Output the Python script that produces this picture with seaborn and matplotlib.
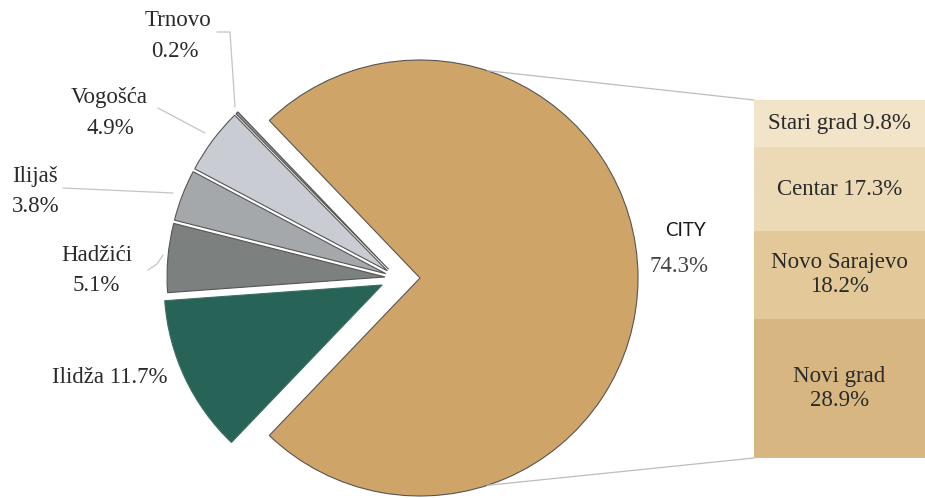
import numpy as np
import matplotlib
matplotlib.use("Agg")
import matplotlib.pyplot as plt
import seaborn as sns

# Population shares: city vs. surrounding municipalities
pie_labels = ["CITY", "Trnovo", "Vogošća", "Ilijaš", "Hadžići", "Ilidža"]
pie_values = [74.3, 0.2, 4.9, 3.8, 5.1, 11.7]
pie_colors = ["#CFA468", "#8C9092", "#C9CDD3", "#A5A8AA", "#7C807F", "#276357"]

# Breakdown of the city share (top to bottom)
bar_labels = ["Stari grad 9.8%", "Centar 17.3%", "Novo Sarajevo\n18.2%", "Novi grad\n28.9%"]
bar_values = [9.8, 17.3, 18.2, 28.9]
bar_colors = ["#F1E4C8", "#ECDAB6", "#E3C99A", "#D8B681"]

W, H = 925, 498
sns.set_theme(style="white")
plt.rcParams["font.family"] = ["Liberation Serif", "DejaVu Serif"]

fig = plt.figure(figsize=(W / 100, H / 100), dpi=100)
fig.patch.set_facecolor("white")
ax = fig.add_axes([0, 0, 1, 1])

radius = 218
center = (397, 220)
explode = [23, 12, 12, 12, 12, 16.4]
start = -pie_values[0] / 2 * 3.6

wedges, _ = ax.pie(pie_values, explode=explode, colors=pie_colors,
                   startangle=start, radius=radius, center=center,
                   counterclock=True,
                   wedgeprops=dict(edgecolor="#555555", linewidth=0.8))
wedges[-1].set_edgecolor("#3E6E64")
ax.set_xlim(0, W)
ax.set_ylim(0, H)
ax.set_aspect("equal")
ax.axis("off")

# connector lines from the city wedge to the breakdown column
city_c = (center[0] + explode[0], center[1])
ang = np.deg2rad(72)
top_pt = (city_c[0] + radius * np.cos(ang), city_c[1] + radius * np.sin(ang))
bot_pt = (city_c[0] + radius * np.cos(ang), city_c[1] - radius * np.sin(ang))
bar_left, bar_bottom, bar_top = 754, 40, 398
lc = "#BDBDBD"
ax.plot([top_pt[0], bar_left], [top_pt[1], bar_top], color=lc, lw=0.9)
ax.plot([bot_pt[0], bar_left], [bot_pt[1], bar_bottom], color=lc, lw=0.9)

def y(v):
    return H - v

tc = "#2A2A2A"
fs = 16.5
ax.text(178, y(20), "Trnovo", ha="center", va="center", fontsize=fs, color=tc)
ax.text(175, y(51), f"{pie_values[1]}%", ha="center", va="center", fontsize=fs, color=tc)
ax.text(109, y(97), "Vogošća", ha="center", va="center", fontsize=fs, color=tc)
ax.text(110, y(128), f"{pie_values[2]}%", ha="center", va="center", fontsize=fs, color=tc)
ax.text(12, y(176), "Ilijaš", ha="left", va="center", fontsize=fs, color=tc)
ax.text(12, y(206), f"{pie_values[3]}%", ha="left", va="center", fontsize=fs, color=tc)
ax.text(97, y(255), "Hadžići", ha="center", va="center", fontsize=fs, color=tc)
ax.text(96, y(285), f"{pie_values[4]}%", ha="center", va="center", fontsize=fs, color=tc)
ax.text(110, y(377), f"Ilidža {pie_values[5]}%", ha="center", va="center", fontsize=fs, color=tc)
ax.text(686, y(230), "CITY", ha="center", va="center", fontsize=13.5, color="#1A1A1A",
        family=["Lato", "DejaVu Sans"])
ax.text(679, y(266), f"{pie_values[0]}%", ha="center", va="center", fontsize=fs, color="#444444")

# leader lines
ll = "#C4C4C4"
ax.plot([217, 230, 235], [y(32), y(32), y(107)], color=ll, lw=0.9)
ax.plot([158, 205], [y(108), y(133)], color=ll, lw=0.9)
ax.plot([63, 173], [y(188), y(193)], color=ll, lw=0.9)
ax.plot([148, 157, 163], [y(270), y(264), y(255)], color=ll, lw=0.9)

# stacked breakdown column
bax = fig.add_axes([bar_left / W, bar_bottom / H, (W - bar_left) / W, (bar_top - bar_bottom) / H])
total = sum(bar_values)
tops = np.cumsum(bar_values)
bottoms = total - tops
for lab, v, b, c in zip(bar_labels, bar_values, bottoms, bar_colors):
    bax.bar(0, v, bottom=b, width=1.0, color=c, edgecolor="none")
    bax.text(0, b + v / 2, lab, ha="center", va="center", fontsize=fs,
             color=tc, linespacing=1.22)
bax.set_xlim(-0.5, 0.5)
bax.set_ylim(0, total)
bax.axis("off")

fig.savefig("out.png", dpi=100, facecolor="white")
